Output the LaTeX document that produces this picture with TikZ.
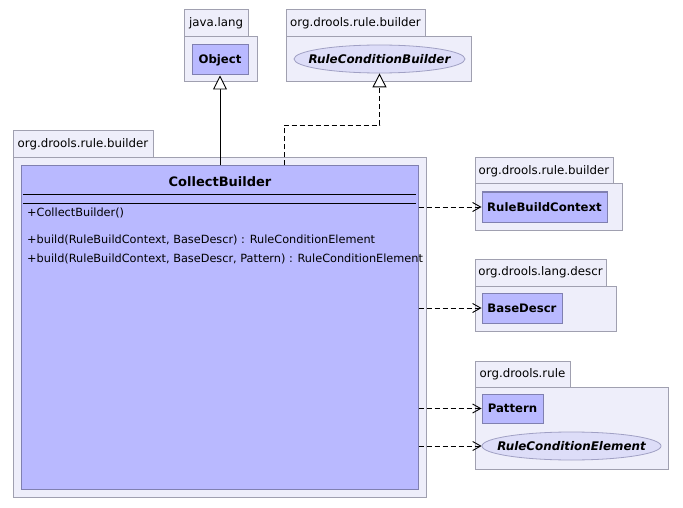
\documentclass[tikz,border=0pt]{standalone}
\usepackage{fontspec}
\setmainfont{DejaVu Sans}
\usetikzlibrary{arrows.meta,shapes.geometric}
\definecolor{pkgfill}{RGB}{238,238,250}
\definecolor{pkgdraw}{RGB}{160,160,176}
\definecolor{clsfill}{RGB}{185,185,255}
\definecolor{clsdraw}{RGB}{128,128,176}
\definecolor{ellfill}{RGB}{221,221,248}
\tikzset{
  pkg/.style={draw=pkgdraw,fill=pkgfill,line width=1pt,inner sep=0pt,font=\fontsize{11.8}{13}\selectfont},
  cls/.style={draw=clsdraw,fill=clsfill,line width=1pt,inner sep=0pt,font=\bfseries\fontsize{11.7}{13}\selectfont},
  iface/.style={ellipse,draw=clsdraw!75,fill=ellfill,line width=0.8pt,inner sep=0pt,font=\bfseries\itshape\fontsize{11.9}{13}\selectfont},
  op/.style={anchor=west,inner sep=0pt,font=\fontsize{11.3}{13}\selectfont},
  gentip/.style={-{Triangle[length=14pt,width=14pt,fill=white,line width=0.9pt]}},
  gen/.style={gentip,line width=0.9pt},
  dep/.style={-{Straight Barb[length=8pt,width=9pt]},dashed,dash pattern=on 5pt off 3pt,line width=0.9pt},
}
\begin{document}
\begin{tikzpicture}[x=1pt,y=-1pt]
\useasboundingbox[fill=white] (0,0) rectangle (683,508);
% java.lang
\node[pkg,minimum width=64pt,minimum height=27pt] (jltab) at (216,23.5) {java.lang};
\node[pkg,minimum width=73pt,minimum height=45pt] (jlbody) at (220.5,59.5) {};
\node[cls,minimum width=56pt,minimum height=30pt] (obj) at (220,60) {Object};
% org.drools.rule.builder (top)
\node[pkg,minimum width=139pt,minimum height=27pt] (rbtab) at (355.5,23.5) {org.drools.rule.builder};
\node[pkg,minimum width=185pt,minimum height=45pt] (rbbody) at (378.5,59.5) {};
\node[iface,minimum width=171pt,minimum height=28pt] (rcb) at (379.5,59) {\makebox[0pt]{RuleConditionBuilder}};
% main package
\node[pkg,minimum width=140pt,minimum height=27pt] (mtab) at (83,144.5) {org.drools.rule.builder};
\node[pkg,minimum width=413pt,minimum height=339pt] (mbody) at (219.5,327.5) {};
\node[cls,minimum width=397pt,minimum height=323pt] (cls) at (219.5,327.5) {};
\node[font=\bfseries\fontsize{13}{15}\selectfont,inner sep=0pt] (cname) at (220,182) {CollectBuilder};
\draw[line width=0.9pt] (23,194) -- (416,194);
\draw[line width=0.9pt] (23,203) -- (416,203);
\node[op] (op1) at (27,213) {+CollectBuilder()};
\node[op] (op2) at (27,240) {+build(RuleBuildContext, BaseDescr) : RuleConditionElement};
\node[op] (op3) at (27,259) {+build(RuleBuildContext, BaseDescr, Pattern) : RuleConditionElement};
% RuleBuildContext
\node[pkg,minimum width=138pt,minimum height=26pt] (rbctab) at (544,171) {org.drools.rule.builder};
\node[pkg,minimum width=147pt,minimum height=46pt] (rbcbody) at (548.5,207) {};
\node[cls,minimum width=125pt,minimum height=30pt] (rbc) at (544.5,207) {RuleBuildContext};
% BaseDescr
\node[pkg,minimum width=131pt,minimum height=27pt] (bdtab) at (540.5,272.5) {org.drools.lang.descr};
\node[pkg,minimum width=141pt,minimum height=45pt] (bdbody) at (545.5,308.5) {};
\node[cls,minimum width=80pt,minimum height=30pt] (bd) at (522,308) {BaseDescr};
% org.drools.rule
\node[pkg,minimum width=95pt,minimum height=26pt] (rtab) at (522.5,374) {org.drools.rule};
\node[pkg,minimum width=193pt,minimum height=82pt] (rbody) at (571.5,428) {};
\node[cls,minimum width=61pt,minimum height=29pt] (pat) at (512.5,408.5) {Pattern};
\node[iface,minimum width=179pt,minimum height=28pt] (rce) at (571.5,446) {\makebox[0pt]{RuleConditionElement}};
% connectors
\draw[gen] (cls.north -| obj) -- (obj.south);
\coordinate (bend) at (284,125);
\draw[dep,gentip] (cls.north -| bend) -- (bend) -| (rcb.south);
\draw[dep] (cls.east |- rbc.west) -- (rbc.west);
\draw[dep] (cls.east |- bd.west) -- (bd.west);
\draw[dep] (cls.east |- pat.west) -- (pat.west);
\draw[dep] (cls.east |- rce.west) -- (rce.west);
\end{tikzpicture}
\end{document}
